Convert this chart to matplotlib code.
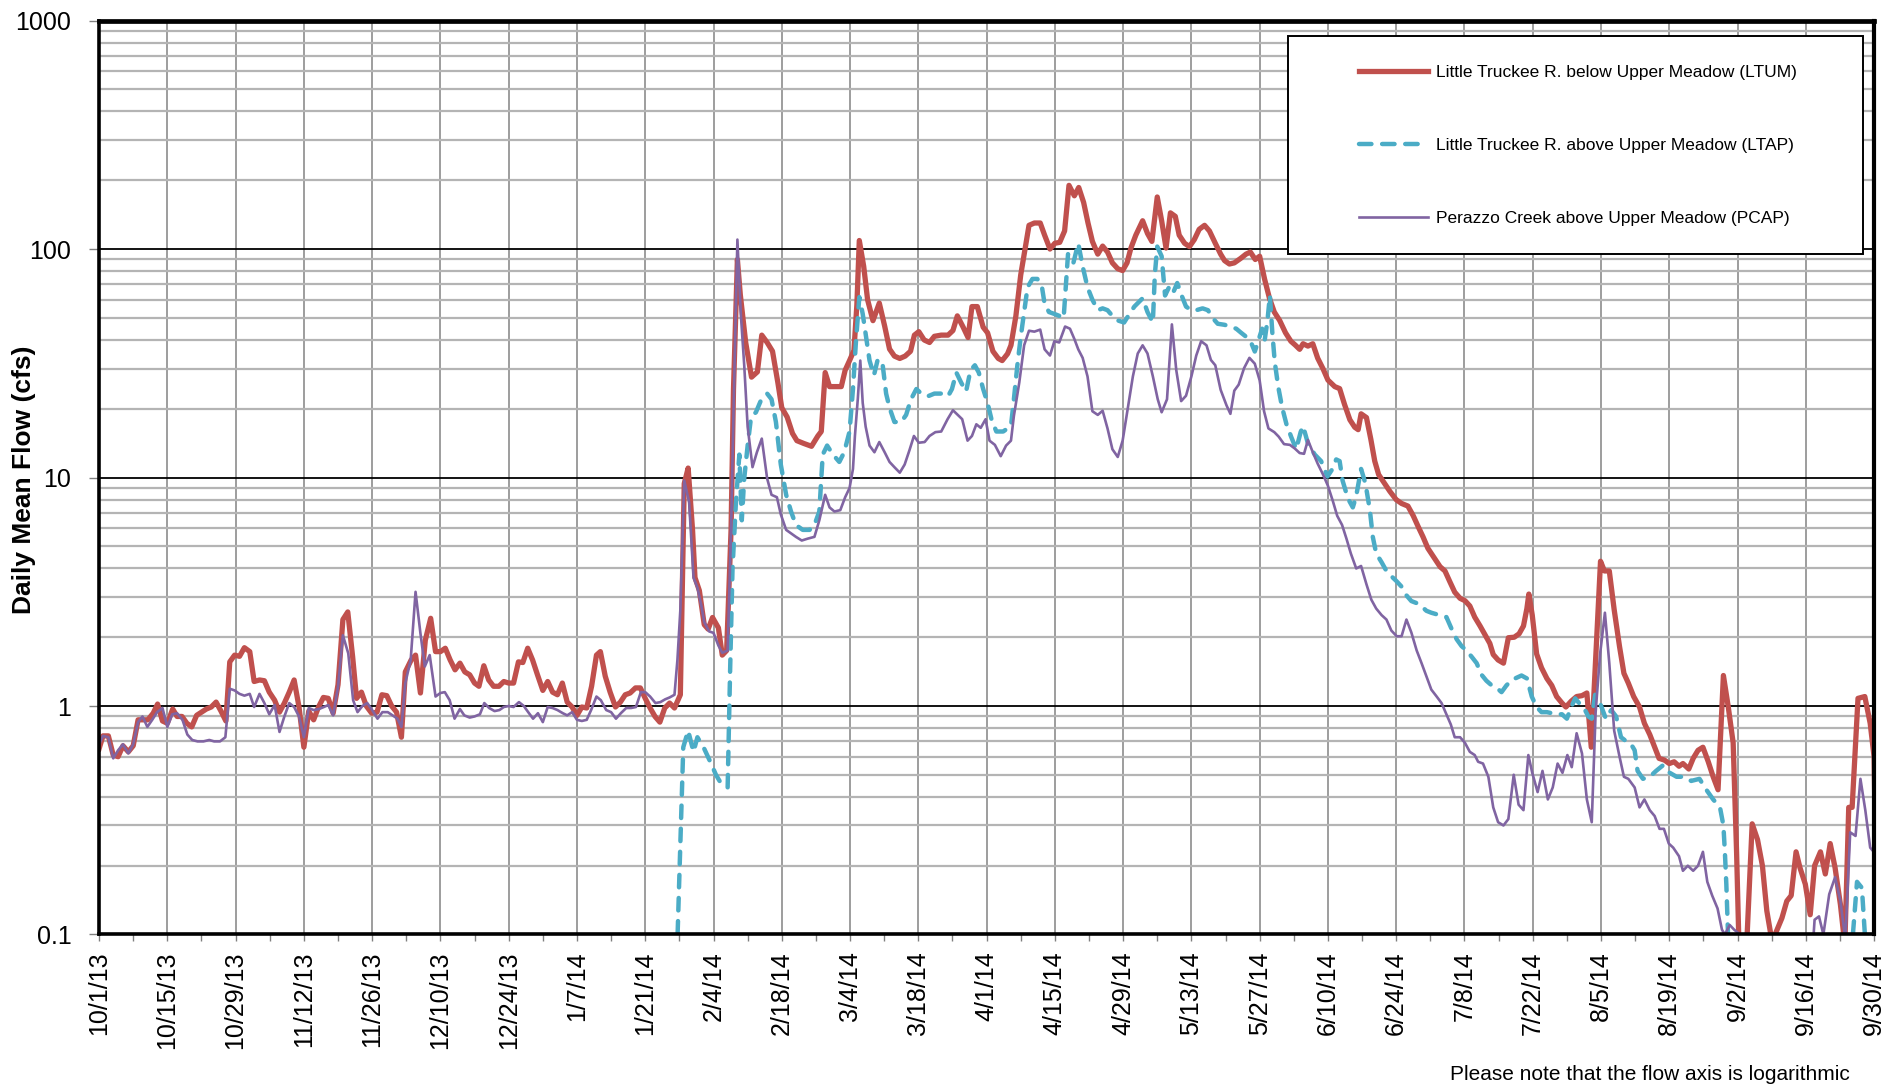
import matplotlib
matplotlib.use("Agg")
import matplotlib.pyplot as plt
import matplotlib.ticker as mticker
from matplotlib.patches import Rectangle
import numpy as np
import pandas as pd

nan = np.nan
start = pd.Timestamp("2013-10-01")
end = pd.Timestamp("2014-09-30")

# day offsets from 10/1/13 and daily mean flow (cfs)
ltum_days = [0, 0.8, 1.9, 2.9, 3.9, 4.9, 6, 7, 8, 9, 10, 11.1, 12, 13, 14, 15.1, 16, 17, 18, 19, 20, 21, 22, 23, 24,
             25, 26, 26.8, 27.8, 28.8, 29.8, 30.9, 31.8, 32.9, 33.9, 34.9, 36, 37, 38, 39, 40, 41, 42, 43, 44, 45, 46,
             47, 48, 49, 50, 51, 52, 52.8, 53.8, 54.8, 55.9, 57, 58, 59, 60, 61, 62, 62.8, 64, 64.9, 65.9, 66.9, 68,
             69, 70, 71, 72, 73, 74, 75, 76, 77, 77.9, 78.9, 79.9, 80.9, 82, 83, 84, 85, 86, 86.9, 87.9, 88.9, 89.9,
             91, 92, 93, 94, 95, 96, 97, 98, 99, 100, 101, 102, 102.8, 103.8, 104.8, 105.9, 106.9, 107.9, 108.9, 110,
             111, 112, 113, 114, 115, 116, 117, 118, 119.2, 120, 120.8, 121.7, 122.2, 123.1, 124.1, 124.9, 125.8, 127,
             127.8, 128.7, 129.6, 130.1, 130.9, 131.5, 132.6, 133.8, 135, 135.9, 137, 138.1, 139.2, 140, 141.1, 142.2,
             143.1, 144.5, 146.1, 147.4, 148.1, 148.9, 149.8, 150.8, 152.2, 153, 153.9, 154.8, 155.4, 155.9, 156.8,
             157.6, 158.7, 160, 161.1, 162.1, 163.1, 164.2, 165.3, 166.4, 167.2, 168.1, 169.2, 170.3, 171.3, 172.7,
             174.1, 175.1, 176, 177.2, 178.2, 179, 180.1, 181.3, 182.2, 183.3, 184.4, 185.2, 186.3, 187, 188, 189,
             190, 190.7, 191.8, 193, 193.9, 195, 196, 197, 198, 198.9, 200, 200.9, 201.9, 202.8, 203.7, 204.8, 205.8,
             206.8, 207.8, 208.9, 209.9, 210.8, 211.6, 212.6, 214, 215, 215.9, 217, 217.9, 218.8, 219.7, 220.7, 221.5,
             222.6, 223.6, 224.6, 225.6, 226.7, 227.7, 228.9, 230, 230.8, 231.8, 232.8, 234.1, 235.2, 236.1, 237.1,
             238, 239, 240, 241, 242.1, 243.3, 244.4, 245.3, 246.2, 246.9, 247.9, 248.9, 249.9, 251, 252, 253.4,
             254.4, 255.4, 256.5, 257.5, 258.2, 258.8, 259.9, 260.8, 261.6, 262.4, 263.5, 264.7, 266, 267.1, 268.4,
             269.5, 270.5, 271.5, 272.5, 273.8, 275, 276, 277, 278, 279.1, 280.1, 281.1, 282.1, 283.2, 284.2, 285.2,
             285.9, 286.9, 288, 289, 290.2, 291.2, 292.1, 292.8, 293.2, 293.9, 294.8, 295.8, 296.9, 297.9, 298.9, 300,
             300.8, 301.9, 303, 304.1, 305.1, 306, 306.9, 307.9, 308.7, 309.7, 310.7, 311.8, 312.7, 313.6, 314.7,
             315.9, 316.9, 318, 319, 319.9, 321, 322, 323, 324, 324.8, 326, 326.9, 327.9, 328.9, 330, 331, 332,
             333.1, 334.1, 335.1, 335.8, 336.5, 337.5, 339, 340.1, 341.1, 342, 343, 343.7, 345.1, 346.1, 347, 348,
             348.8, 349.9, 350.9, 351.8, 353, 354, 355, 356, 357.1, 358, 358.8, 359.5, 360.7, 362.1, 363.2, 364, 364.5]
ltum_flow = [0.65, 0.74, 0.74, 0.61, 0.60, 0.67, 0.63, 0.67, 0.87, 0.87, 0.87, 0.93, 1.02, 0.86, 0.84, 0.97, 0.90, 0.90,
             0.84, 0.81, 0.91, 0.94, 0.97, 0.99, 1.04, 0.95, 0.86, 1.56, 1.67, 1.65, 1.80, 1.73, 1.28, 1.30, 1.29, 1.15,
             1.06, 0.94, 1.03, 1.15, 1.30, 0.99, 0.66, 0.95, 0.87, 0.99, 1.09, 1.08, 0.93, 1.24, 2.39, 2.58, 1.64, 1.08,
             1.15, 1.0, 0.93, 0.94, 1.12, 1.11, 1.0, 0.94, 0.73, 1.41, 1.59, 1.67, 1.14, 1.94, 2.42, 1.73, 1.73, 1.79,
             1.59, 1.44, 1.54, 1.41, 1.37, 1.26, 1.22, 1.50, 1.30, 1.22, 1.22, 1.28, 1.26, 1.26, 1.56, 1.55, 1.79, 1.59,
             1.37, 1.17, 1.28, 1.15, 1.12, 1.26, 1.04, 0.99, 0.91, 0.99, 0.98, 1.22, 1.67, 1.73, 1.35, 1.15, 0.99, 1.04,
             1.12, 1.14, 1.2, 1.2, 1.08, 0.98, 0.90, 0.85, 0.98, 1.03, 0.98, 1.12, 9.4, 11.0, 5.9, 3.65, 3.2, 2.27, 2.17,
             2.44, 2.2, 1.67, 1.75, 5.9, 24.4, 90, 63, 39, 27.5, 29, 42, 39, 35.7, 26, 20.2, 18.4, 15.6, 14.5, 14.1, 13.7,
             15.2, 15.9, 28.8, 25, 25, 25, 29.5, 32.5, 36, 57, 109, 84, 60, 48.6, 58, 46, 36.5, 34, 33.2, 34, 35.7, 42,
             43.5, 40, 39, 41.5, 42, 42, 44, 51, 45.5, 41, 56, 56, 45.5, 43, 35.7, 33.2, 32.5, 34.8, 37.9, 50.8, 77, 103,
             127, 130, 130, 115, 100, 106, 107, 120, 190, 171, 186, 160, 130, 108, 95, 103, 97, 87, 82, 80.5, 87, 101,
             115, 133, 117, 108, 169, 133, 101, 144, 139, 115, 106, 102.5, 110, 122, 127, 120, 106, 95, 89, 86, 87, 91,
             95, 97, 90, 93, 74, 61, 53, 48.7, 43, 39.5, 38, 36.4, 38.5, 37.6, 38.5, 33.3, 29.9, 26.7, 25, 24.5, 20.9,
             17.9, 16.6, 16.2, 19, 18.3, 14.7, 11.8, 10.3, 9.5, 8.7, 8.0, 7.7, 7.5, 6.8, 6.1, 5.5, 4.9, 4.45, 4.07, 3.9,
             3.5, 3.15, 2.96, 2.89, 2.74, 2.45, 2.24, 2.05, 1.88, 1.68, 1.59, 1.54, 1.99, 2.0, 2.07, 2.24, 2.67, 3.09,
             2.5, 1.69, 1.47, 1.32, 1.23, 1.10, 1.03, 0.99, 1.05, 1.10, 1.11, 1.14, 0.66, 1.6, 4.3, 3.9, 3.9, 2.64, 1.82,
             1.39, 1.26, 1.1, 0.99, 0.84, 0.75, 0.66, 0.59, 0.58, 0.56, 0.57, 0.545, 0.56, 0.53, 0.59, 0.64, 0.66, 0.57,
             0.49, 0.43, 1.36, 0.99, 0.69, 0.23, 0.06, 0.06, 0.305, 0.26, 0.20, 0.127, 0.095, 0.1, 0.118, 0.14, 0.148,
             0.23, 0.196, 0.166, 0.122, 0.2, 0.23, 0.184, 0.25, 0.196, 0.135, 0.09, 0.36, 0.36, 1.08, 1.1, 0.84, 0.6,
             0.12]

ltap_days = [118.5, 119.8, 120.8, 121.9, 122.7, 124.1, 125.5, 126.5, 127.5, 128.9, 129.4, 129.9, 130.6, 131.3, 131.8,
             132.3, 133, 133.7, 134.7, 135.7, 137, 137.9, 138.8, 139.8, 140.9, 141.9, 142.9, 144.3, 145.7, 146.7,
             147.7, 148.4, 149.3, 150.5, 151.8, 152.8, 153.9, 154.6, 155.2, 155.9, 156.6, 157.3, 158, 158.9, 159.7,
             160.7, 161.4, 162.1, 163.1, 164.5, 165.5, 166.5, 167.6, 168.6, 170, 171.3, 172.7, 174.1, 174.9, 175.8,
             176.8, 177.8, 178.7, 179.6, 180.4, 181.3, 182.2, 183, 184, 185.4, 187, 187.6, 188.3, 189, 189.7, 190.4,
             191.4, 192.4, 193.3, 193.9, 194.8, 195.9, 196.9, 197.8, 198.3, 198.7, 199.8, 200.8, 201.7, 202.7, 203.7,
             204.8, 205.8, 206.8, 207.8, 208.9, 210.2, 211.3, 212.3, 214, 215, 216.1, 216.5, 217, 217.9, 218.6, 219.4,
             220.2, 221.1, 222, 222.9, 224, 225, 226.3, 227.4, 228.4, 229.4, 230.8, 232, 233.2, 234.2, 235.3, 236.3,
             237, 237.7, 238.5, 239, 239.6, 240.1, 240.6, 241.1, 241.8, 242.6, 243.5, 244.5, 245.5, 246.4, 246.9,
             247.9, 249.3, 250.6, 251.9, 252.8, 253.7, 254.4, 255, 256.1, 257.1, 257.8, 258.8, 259.7, 260.6, 261.2,
             261.9, 263, 264, 265, 266, 267.1, 268.1, 269.1, 270.2, 271.2, 272.2, 273.2, 274.3, 275.3, 276.3, 277.3,
             278.4, 279.4, 280.4, 281.5, 282.5, 283.5, 284.5, 285.6, 286.6, 287.6, 288.6, 289.7, 290.7, 291.7, 292.8,
             293.8, 294.8, 295.8, 296.9, 297.9, 298.9, 300, 301, 301.9, 302.7, 303.5, 304.4, 305.4, 306.1, 306.8,
             307.8, 309, 310.1, 311.1, 312.1, 313.2, 314, 314.9, 315.5, 316.6, 318, 319.3, 320.7, 322.1, 323.5, 324.9,
             326.5, 328.2, 329.6, 331, 332.4, 333.1, 333.4, 333.7, 334.2, 335, 359, 359.3, 360.5, 361.5, 362.4, 363]
ltap_flow = [0.08, 0.66, 0.78, 0.63, 0.73, 0.65, 0.56, 0.50, 0.46, 0.44, 1.41, 4.0, 7.8, 12.6, 6.5, 9.9, 13.8, 18.4,
             19.3, 21.7, 23.3, 22, 17.5, 11.4, 8.4, 7.1, 6.2, 5.9, 5.9, 6.2, 7.1, 12.6, 13.8, 12.6, 11.7, 12.9, 15.9,
             24.4, 39, 61.6, 52, 41, 32.5, 28, 33, 31, 23.3, 20.2, 17.5, 17.5, 18.8, 22, 24.4, 23.3, 22.7, 23.3, 23.3,
             22.7, 24.4, 28.8, 26, 23.8, 29.5, 31, 28.8, 24.4, 21.2, 18, 15.9, 15.9, 16.8, 22, 30.8, 41.2, 53, 68, 74,
             74, 69.5, 57.5, 53, 52, 51, 49.8, 71, 95, 87, 106, 84, 68, 60, 54, 55, 54, 51, 48.7, 47.7, 52, 56, 60.9, 53,
             47.7, 77, 102.5, 93, 62.6, 68, 64, 71, 62.6, 56, 54, 54, 55, 54, 49.8, 47.1, 46.6, 45.8, 44.8, 43, 41.2,
             38.7, 35.6, 39.5, 44.8, 39.5, 48.7, 62.6, 43, 32, 25, 20.3, 17.1, 15.0, 13.3, 15.8, 16.8, 14.1, 12.6, 11.8,
             10.1, 10.8, 12.0, 11.8, 9.7, 8.1, 7.4, 8.3, 10.9, 9.4, 7.2, 5.5, 4.65, 4.26, 3.9, 3.7, 3.53, 3.33, 3.05,
             2.88, 2.82, 2.73, 2.61, 2.56, 2.52, 2.48, 2.45, 2.19, 1.96, 1.83, 1.75, 1.64, 1.54, 1.37, 1.29, 1.23, 1.2,
             1.15, 1.23, 1.3, 1.33, 1.36, 1.32, 1.10, 0.99, 0.94, 0.94, 0.93, 0.92, 0.92, 0.88, 0.99, 1.08, 1.03, 0.99,
             0.90, 0.88, 1.12, 1.03, 0.88, 0.96, 0.9, 0.73, 0.70, 0.69, 0.64, 0.52, 0.48, 0.49, 0.52, 0.55, 0.51, 0.49,
             0.49, 0.47, 0.48, 0.43, 0.39, 0.36, 0.30, 0.23, 0.166, 0.08, nan, nan, 0.08, 0.17, 0.16, 0.08, nan]

pcap_days = [0, 0.8, 1.9, 2.9, 3.9, 4.9, 6, 7, 8, 8.9, 9.9, 10.9, 11.9, 13, 14, 15, 16, 17.1, 18.1, 19.1, 20.2, 21.4,
             22.6, 23.6, 24.8, 25.9, 26.8, 27.8, 28.8, 29.8, 30.9, 31.8, 32.9, 33.9, 34.9, 36, 37, 38, 39, 40, 41, 42,
             43, 44, 45.1, 46.1, 47, 48, 49, 50, 51.1, 52.1, 53, 54, 55, 56, 57.1, 58.1, 59.2, 60.2, 61.2, 62, 62.8,
             63.9, 64.9, 65.9, 66.8, 67.8, 69, 70, 70.9, 71.9, 72.9, 74, 74.9, 76, 77, 78.1, 79, 80, 81.1, 82.1, 83, 84,
             85, 86.1, 87.1, 88, 89, 90, 91, 92, 93, 94, 95.1, 96, 97, 98, 99, 100, 100.9, 102, 102.9, 104, 105, 106,
             107, 108.1, 109.1, 110.1, 111.1, 112, 113, 114.1, 115.1, 116.1, 117, 118, 118.6, 119.2, 120, 121, 121.9,
             122.7, 123.5, 124.1, 125.1, 126, 127, 127.8, 128.9, 129.6, 130.2, 130.9, 131.6, 132.3, 133, 134, 134.9,
             135.9, 137, 137.9, 139, 139.8, 140.9, 141.9, 142.9, 144.1, 145.3, 146.7, 147.7, 148.9, 149.8, 150.8, 152,
             153, 153.9, 154.6, 155, 155.6, 156.1, 156.6, 157.2, 158, 159, 160, 161.1, 162.1, 163.1, 164.2, 165.2,
             166.2, 167.1, 168.1, 169.3, 170.3, 171.5, 172.7, 174, 175.1, 176.1, 177, 178.1, 179, 179.9, 180.8, 181.8,
             182.6, 183.7, 184.9, 186, 187, 187.6, 188.7, 189.7, 190.7, 191.8, 193, 193.9, 195, 195.9, 196.9, 198.1,
             199.1, 200, 200.8, 201.7, 202.7, 203.7, 204.8, 205.8, 206.8, 207.8, 208.9, 209.9, 211, 212, 213, 214, 215,
             216.1, 217.1, 217.9, 219, 220, 220.9, 221.9, 222.9, 224, 225, 226, 227.1, 228, 228.9, 230, 231.2, 232,
             232.8, 233.7, 234.8, 235.9, 237, 238, 238.9, 239.8, 241, 241.9, 243, 244.2, 245.2, 246.2, 247.1, 247.9,
             248.9, 249.9, 251, 252, 253, 253.9, 254.9, 255.8, 256.7, 257.8, 258.8, 259.9, 260.9, 261.9, 263, 264, 265,
             266.1, 267.1, 268.1, 269.1, 270.2, 271.2, 272.2, 273.2, 274.3, 275.3, 276.3, 277.2, 278, 279.1, 280.1,
             281.1, 282.1, 282.8, 283.8, 284.9, 285.9, 286.9, 288, 289, 290.1, 291.1, 292.1, 293.1, 293.9, 295, 296,
             297.1, 298.1, 299.1, 300.1, 301.1, 302, 303, 304.1, 305.1, 306.1, 306.9, 307.8, 308.8, 309.7, 310.7,
             311.8, 312.7, 313.6, 314.9, 315.9, 316.9, 318, 319, 320, 320.9, 321.9, 322.8, 324, 324.8, 325.8, 326.9,
             327.9, 328.9, 329.8, 330.8, 331.9, 332.8, 333.4, 334.4, 335.3, 336.5, 337.5, 338, 351, 351.3, 351.8,
             352.7, 353.6, 354.8, 356, 357.1, 358.1, 359.1, 360.2, 361.2, 362.2, 363.2, 364.3]
pcap_flow = [0.68, 0.74, 0.73, 0.59, 0.64, 0.68, 0.62, 0.68, 0.85, 0.9, 0.81, 0.87, 0.94, 0.98, 0.81, 0.92, 0.93, 0.87,
             0.75, 0.71, 0.70, 0.70, 0.71, 0.70, 0.70, 0.73, 1.19, 1.17, 1.13, 1.11, 1.13, 0.99, 1.13, 1.03, 0.92, 1.01,
             0.77, 0.9, 1.03, 0.99, 0.9, 0.73, 0.98, 0.96, 0.97, 0.99, 1.01, 0.91, 1.21, 2.04, 1.7, 1.06, 0.94, 1.0, 1.03,
             0.96, 0.88, 0.94, 0.94, 0.91, 0.88, 0.81, 1.26, 1.59, 3.16, 2.08, 1.49, 1.67, 1.1, 1.14, 1.15, 1.06, 0.88,
             0.97, 0.91, 0.89, 0.9, 0.92, 1.03, 0.98, 0.95, 0.96, 0.99, 1.0, 0.99, 1.04, 1.0, 0.94, 0.88, 0.93, 0.85,
             0.99, 0.98, 0.96, 0.93, 0.91, 0.94, 0.87, 0.86, 0.87, 0.96, 1.1, 1.06, 0.96, 0.94, 0.88, 0.93, 0.98, 0.98,
             0.99, 1.15, 1.15, 1.1, 1.03, 1.04, 1.07, 1.09, 1.12, 1.59, 2.63, 9.7, 7.8, 3.65, 3.3, 2.75, 2.33, 2.12,
             2.09, 1.84, 1.71, 1.75, 5.9, 24, 110, 52, 31, 16.7, 11.1, 12.9, 14.8, 9.9, 8.4, 8.2, 6.9, 5.9, 5.7, 5.5,
             5.3, 5.4, 5.5, 6.5, 8.4, 7.4, 7.1, 7.2, 8.2, 9.0, 10.9, 15.2, 22.2, 32.5, 21.2, 16.7, 13.8, 12.9, 14.3,
             12.9, 11.7, 11.1, 10.5, 11.4, 13.2, 15.2, 14.2, 14.3, 15.2, 15.8, 15.9, 18, 19.7, 18.8, 18, 14.5, 15.2,
             17.1, 16.5, 18, 14.5, 13.9, 12.4, 13.8, 14.5, 18.6, 26, 37.9, 43.9, 43.5, 44.4, 36.4, 34.2, 39.5, 39, 45.8,
             44.8, 40.4, 36.4, 33.4, 27.7, 19.5, 18.8, 19.6, 16.4, 13.3, 12.3, 14.5, 20.3, 27.7, 34.9, 37.9, 34.9, 27.7,
             22, 19.3, 22, 46.8, 29.5, 21.6, 22.8, 27.7, 34.2, 39.5, 37.9, 32.7, 31, 24.2, 20.7, 19, 24, 25.5, 30.1,
             33.4, 31.5, 26.6, 19.5, 16.4, 15.8, 15.1, 14, 13.9, 13.4, 12.8, 12.7, 14.6, 12.9, 11.5, 10.3, 9.2, 7.9, 6.8,
             6.2, 5.4, 4.65, 4.0, 4.1, 3.41, 2.92, 2.67, 2.5, 2.39, 2.14, 2.02, 2.02, 2.39, 2.1, 1.75, 1.54, 1.35, 1.18,
             1.10, 1.03, 0.92, 0.83, 0.73, 0.73, 0.69, 0.63, 0.61, 0.57, 0.56, 0.49, 0.36, 0.31, 0.30, 0.32, 0.50, 0.37,
             0.35, 0.61, 0.51, 0.42, 0.52, 0.39, 0.44, 0.56, 0.51, 0.61, 0.54, 0.76, 0.62, 0.39, 0.31, 0.94, 1.68, 2.56,
             1.54, 0.78, 0.6, 0.49, 0.48, 0.44, 0.36, 0.39, 0.35, 0.33, 0.29, 0.29, 0.25, 0.24, 0.22, 0.19, 0.2, 0.19,
             0.2, 0.23, 0.17, 0.148, 0.13, 0.105, 0.1, 0.11, 0.105, 0.1, 0.08, nan, nan, 0.08, 0.116, 0.12, 0.1, 0.15,
             0.178, 0.14, 0.095, 0.28, 0.27, 0.48, 0.35, 0.24, 0.225]

series_labels = ["Little Truckee R. below Upper Meadow (LTUM)",
                 "Little Truckee R. above Upper Meadow (LTAP)",
                 "Perazzo Creek above Upper Meadow (PCAP)"]
y_ticks = [0.1, 1, 10, 100, 1000]
y_tick_labels = ["0.1", "1", "10", "100", "1000"]
footer = "Please note that the flow axis is logarithmic"
y_title = "Daily Mean Flow (cfs)"


def to_dates(days):
    return start + pd.to_timedelta(np.array(days, dtype=float), unit="D")


plt.rcParams["font.family"] = ["Liberation Sans", "DejaVu Sans"]

fig = plt.figure(figsize=(18.98, 10.88), dpi=100)
ax = fig.add_axes([0.0522, 0.1411, 0.9352, 0.8400])

ax.plot(to_dates(ltum_days), ltum_flow, color="#C0504D", lw=3.8, zorder=3,
        solid_joinstyle="round", label=series_labels[0])
ax.plot(to_dates(ltap_days), ltap_flow, color="#4BACC6", lw=3.2, zorder=3.1,
        linestyle=(0, (2.8, 2.4)), dash_capstyle="round", label=series_labels[1])
ax.plot(to_dates(pcap_days), pcap_flow, color="#8064A2", lw=1.9, zorder=3.2, label=series_labels[2])

ax.set_yscale("log")
ax.set_ylim(0.1, 1000)
ax.set_xlim(start, end)

ax.set_yticks(y_ticks)
ax.set_yticklabels(y_tick_labels, fontsize=18)
ax.yaxis.set_minor_locator(mticker.LogLocator(base=10, subs=np.arange(2, 10)))
ax.yaxis.set_minor_formatter(mticker.NullFormatter())

tick_dates = pd.date_range(start, end, freq="14D")
minor_dates = pd.date_range(start, end, freq="7D")
ax.set_xticks(tick_dates)
ax.set_xticklabels([f"{d.month}/{d.day}/{d:%y}" for d in tick_dates], rotation=90, fontsize=18)
ax.set_xticks(minor_dates, minor=True)

ax.set_axisbelow(True)
ax.grid(axis="y", which="minor", color="#b4b4b4", lw=1.6)
ax.grid(axis="y", which="major", color="black", lw=1.3)
ax.grid(axis="x", which="major", color="#8c8c8c", lw=1.2)

ax.tick_params(axis="y", which="major", length=7, width=1, color="#808080", pad=13)
ax.tick_params(axis="y", which="minor", length=0)
ax.tick_params(axis="x", which="both", length=5, width=1, color="#808080", pad=7)

for side, w in [("left", 2.6), ("bottom", 2.6), ("top", 3.4), ("right", 3.0)]:
    ax.spines[side].set_linewidth(w)
    ax.spines[side].set_color("black")
    ax.spines[side].set_zorder(5)

# legend box
ax.add_patch(Rectangle((0.670, 0.745), 0.324, 0.238, transform=ax.transAxes,
                       facecolor="white", edgecolor="black", lw=1.4, zorder=4.5))
leg = ax.legend(loc="upper left", bbox_to_anchor=(0.7099, 0.951), frameon=False, fontsize=12.5,
                handlelength=3.95, handletextpad=0.45, labelspacing=3.33, borderpad=0, borderaxespad=0)
leg.set_zorder(6)

fig.text(24 / 1898, 1 - 480 / 1088, y_title, rotation=90, ha="center", va="center",
         fontsize=19, fontweight="bold")
fig.text(1850 / 1898, 1 - 1074 / 1088, footer, ha="right", va="center", fontsize=15)

fig.savefig("out.png", dpi=100)
